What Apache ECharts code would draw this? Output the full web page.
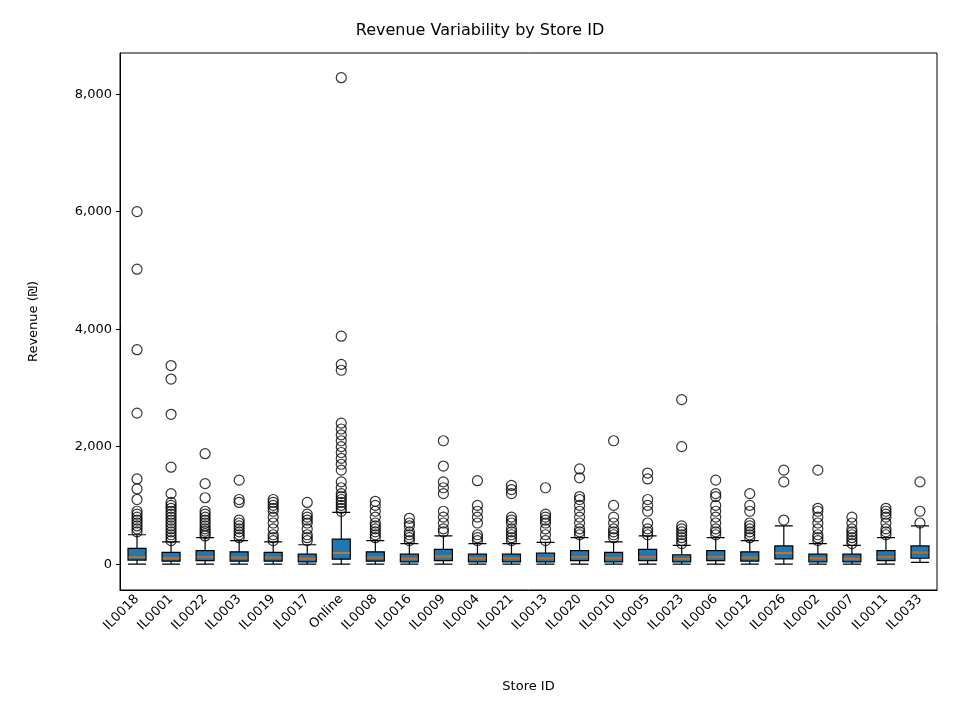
<!DOCTYPE html>
<html><head><meta charset="utf-8">
<script src="https://cdn.jsdelivr.net/npm/echarts@6/dist/echarts.min.js"></script>
<style>html,body{margin:0;padding:0;background:#fff}#c{width:960px;height:720px}</style>
</head><body><div id="c"></div>
<script>
const categories = ["IL0018","IL0001","IL0022","IL0003","IL0019","IL0017","Online","IL0008","IL0016","IL0009","IL0004","IL0021","IL0013","IL0020","IL0010","IL0005","IL0023","IL0006","IL0012","IL0026","IL0002","IL0007","IL0011","IL0033"];
const yTicks = [0,2000,4000,6000,8000];
// [lower whisker, q1, median, q3, upper whisker]
const boxes = [
 [0,70,120,270,500],[0,50,100,200,380],[0,60,120,230,450],[0,50,110,210,400],[0,50,110,200,380],
 [0,40,90,170,330],[0,85,190,425,880],[0,50,110,210,400],[0,40,90,170,350],[0,60,130,250,480],
 [0,40,100,170,350],[0,40,100,170,350],[0,40,100,190,370],[0,60,120,230,450],[0,40,100,200,380],
 [0,60,120,250,480],[0,40,90,160,320],[0,60,120,230,450],[0,50,110,210,400],[0,90,190,310,650],
 [0,40,100,170,350],[0,40,90,170,320],[0,60,120,230,450],[30,100,200,310,650]
];
const outliers = [
 [550,600,650,700,750,800,850,900,1100,1280,1450,2570,3650,5020,6000],
 [400,450,500,550,600,650,700,750,800,850,900,950,1000,1050,1200,1650,2550,3150,3380],
 [480,520,560,600,650,700,750,800,850,900,1130,1370,1880],
 [450,500,550,600,650,700,750,1050,1100,1430],
 [400,450,500,600,700,800,900,950,1000,1050,1100],
 [400,450,500,600,700,750,800,850,1050],
 [900,950,1000,1050,1100,1150,1200,1300,1400,1600,1700,1800,1900,2000,2100,2200,2300,2400,3300,3400,3880,8280],
 [450,500,550,600,650,700,800,900,1000,1070],
 [400,450,500,550,650,700,780],
 [550,600,700,800,900,1200,1300,1400,1670,2100],
 [400,450,500,700,800,900,1000,1420],
 [400,450,500,550,600,700,750,800,1200,1270,1340],
 [400,500,600,700,750,800,850,1300],
 [500,550,600,700,800,900,1000,1100,1150,1470,1620],
 [450,500,550,600,700,800,1000,2100],
 [500,550,600,700,900,1000,1100,1450,1550],
 [350,400,450,500,550,600,650,2000,2800],
 [500,550,600,700,800,900,1000,1150,1200,1430],
 [450,500,550,600,650,700,900,1000,1200],
 [750,1400,1600],
 [400,450,500,600,700,800,900,950,1600],
 [350,400,450,500,550,600,700,800],
 [500,550,600,700,800,850,900,950],
 [700,900,1400]
];
const outPts = [];
outliers.forEach((arr,i)=>arr.forEach(v=>outPts.push([i,v])));
const medians = boxes.map((b,i)=>[i,b[2]]);
const font = 'DejaVu Sans';
const chart = echarts.init(document.getElementById('c'));
chart.setOption({
 animation:false,
 textStyle:{fontFamily:font,color:'#000'},
 title:{text:'Revenue Variability by Store ID',left:'center',top:18,textStyle:{fontFamily:font,fontSize:16,fontWeight:'normal',color:'#000'}},
 grid:{left:120,right:23,top:53,bottom:130,show:true,borderColor:'#000',borderWidth:1},
 xAxis:{type:'category',data:categories,name:'Store ID',nameLocation:'middle',nameGap:90,
  nameTextStyle:{fontSize:13,color:'#000'},
  axisLine:{onZero:false,lineStyle:{color:'#000'}},axisTick:{alignWithLabel:true,length:4,lineStyle:{color:'#000'}},
  axisLabel:{rotate:45,fontSize:13,color:'#000',interval:0,margin:7}},
 yAxis:{type:'value',min:-440,max:8700,name:'Revenue (₪)',nameLocation:'middle',nameGap:80,
  nameTextStyle:{fontSize:13,color:'#000'},
  axisLine:{show:true,lineStyle:{color:'#000'}},
  axisTick:{show:true,length:4,customValues:yTicks,lineStyle:{color:'#000'}},
  splitLine:{show:false},
  axisLabel:{fontSize:13,color:'#000',customValues:yTicks}},
 series:[
  {type:'boxplot',data:boxes,boxWidth:[18,18],itemStyle:{color:'#1f77b4',borderColor:'#000',borderWidth:1.2}},
  {type:'scatter',data:medians,symbol:'rect',symbolSize:[17,2],itemStyle:{color:'#ff7f0e'},z:5},
  {type:'scatter',data:outPts,symbol:'circle',symbolSize:10,itemStyle:{color:'rgba(0,0,0,0)',borderColor:'#000',borderWidth:1.2}}
 ]
});
</script></body></html>
